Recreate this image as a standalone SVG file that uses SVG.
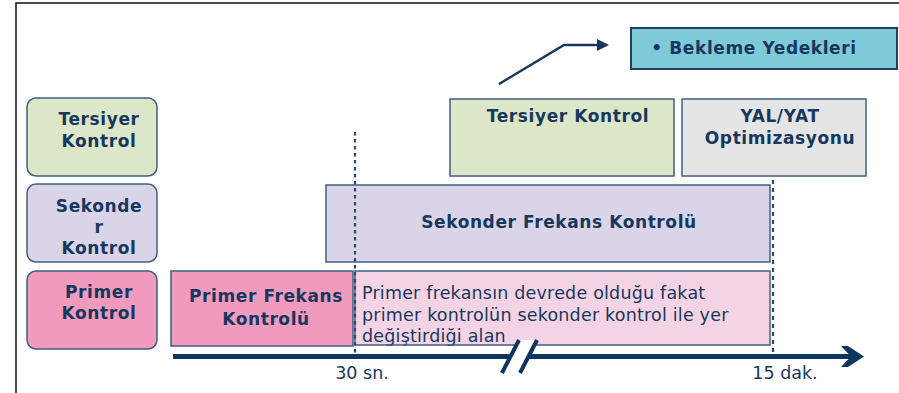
<svg xmlns="http://www.w3.org/2000/svg" width="899" height="393" viewBox="0 0 899 393">
<style>
.t{font-family:"DejaVu Sans",Verdana,sans-serif;font-weight:bold;font-size:17px;letter-spacing:0.6px;fill:#17375E;text-anchor:middle}
.p{font-family:"DejaVu Sans",Verdana,sans-serif;font-size:17.5px;letter-spacing:0.2px;fill:#17375E}
.lab{font-family:"DejaVu Sans",Verdana,sans-serif;font-size:17.5px;fill:#17375E;text-anchor:middle}
.bx{stroke:#3F5F80;stroke-width:1.5}
.dash{stroke:#2A4A70;stroke-width:2.2;fill:none}
</style>
<defs>
<marker id="ah" markerWidth="12" markerHeight="12" refX="10" refY="6" orient="auto" markerUnits="userSpaceOnUse">
<path d="M0,0 L12,6 L0,12 z" fill="#17375E"/>
</marker>
</defs>
<rect width="899" height="393" fill="#fff"/>
<path d="M16,393 V3 H899" fill="none" stroke="#111" stroke-width="1.5"/>

<g id="legend-tersiyer">
<rect class="bx" x="27" y="98" width="130" height="78" rx="9" fill="#DCE7C8"/>
<text class="t" x="99" y="125">Tersiyer</text>
<text class="t" x="99" y="147">Kontrol</text>
</g>
<g id="legend-sekonder">
<rect class="bx" x="27" y="184" width="130" height="78" rx="9" fill="#D9D4E8"/>
<text class="t" x="99" y="212">Sekonde</text>
<text class="t" x="99" y="233">r</text>
<text class="t" x="99" y="254">Kontrol</text>
</g>
<g id="legend-primer">
<rect class="bx" x="27" y="271" width="130" height="78" rx="9" fill="#F09BBE"/>
<text class="t" x="99" y="298">Primer</text>
<text class="t" x="99" y="319">Kontrol</text>
</g>

<g id="bekleme">
<rect x="631" y="28" width="266" height="41" fill="#7FCAD9" stroke="#1F3F66" stroke-width="2"/>
<text class="t" x="754" y="54">• Bekleme Yedekleri</text>
</g>
<g id="tersiyer-kontrol">
<rect class="bx" x="450" y="99" width="224" height="77" fill="#DCE7C8"/>
<text class="t" x="568" y="122">Tersiyer Kontrol</text>
</g>
<g id="yal-yat">
<rect class="bx" x="682" y="99" width="184" height="77" fill="#E5E5E5"/>
<text class="t" x="780" y="122">YAL/YAT</text>
<text class="t" x="780" y="144">Optimizasyonu</text>
</g>
<g id="sekonder-frekans">
<rect class="bx" x="326" y="185" width="444" height="77" fill="#D9D4E8"/>
<text class="t" x="559" y="228">Sekonder Frekans Kontrolü</text>
</g>
<g id="primer-frekans">
<rect class="bx" x="171" y="271" width="182" height="75" fill="#F09BBE"/>
<text class="t" x="266" y="302">Primer Frekans</text>
<text class="t" x="266" y="325">Kontrolü</text>
</g>
<g id="gecis-alani">
<rect x="355" y="271" width="415" height="74" fill="#F4D4E4"/>
<text class="p" x="362" y="299">Primer frekansın devrede olduğu fakat</text>
<text class="p" x="362" y="321">primer kontrolün sekonder kontrol ile yer</text>
<text class="p" x="362" y="342">değiştirdiği alan</text>
<rect class="bx" x="355" y="271" width="415" height="74" fill="none"/>
</g>

<g id="connectors">
<line class="dash" x1="355" y1="132" x2="355" y2="354" stroke-dasharray="3.5,3.5"/>
<line class="dash" x1="773" y1="180" x2="773" y2="354" stroke-dasharray="4,4"/>
<polyline points="499,84 564,45 607,45" fill="none" stroke="#17375E" stroke-width="2.5" marker-end="url(#ah)"/>
<line x1="173" y1="356.5" x2="852" y2="356.5" stroke="#0E3560" stroke-width="5"/>
<polygon points="841,346 848,346 864,356.5 848,367 841,367 851,356.5" fill="#0E3560"/>
<polygon points="519,340 536,340 519,373 502,373" fill="#fff"/>
<line x1="519" y1="340" x2="502" y2="373" stroke="#0E3560" stroke-width="4"/>
<line x1="537" y1="340" x2="520" y2="373" stroke="#0E3560" stroke-width="4"/>
</g>

<text class="lab" x="362" y="379">30 sn.</text>
<text class="lab" x="785" y="379">15 dak.</text>
</svg>
